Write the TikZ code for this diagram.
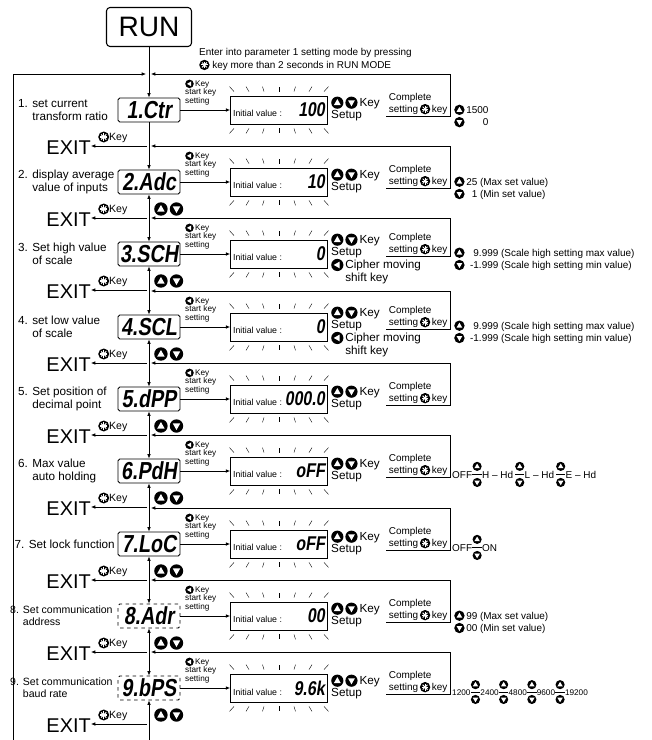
\documentclass[tikz,border=0pt]{standalone}
\usepackage{fontspec}
\setmainfont{Liberation Sans}
\newfontfamily\segfont{Liberation Sans}[FakeSlant=0.15,FakeStretch=0.8]
\usetikzlibrary{arrows.meta,calc,positioning}

% round key icons, sized by the font around them
\newcommand{\kicon}[1]{\tikz[baseline={(0pt,-0.34em)}]{\fill (0pt,0pt) circle (0.52em); #1}}
\newcommand{\kup}{\kicon{\fill[white] (0em,0.31em)--(-0.29em,-0.2em)--(0.29em,-0.2em)--cycle;}}
\newcommand{\kdn}{\kicon{\fill[white] (0em,-0.31em)--(-0.29em,0.2em)--(0.29em,0.2em)--cycle;}}
\newcommand{\klf}{\kicon{\fill[white] (-0.31em,0em)--(0.2em,0.29em)--(0.2em,-0.29em)--cycle;}}
\newcommand{\kset}{\kicon{\foreach \a in {0,45,...,135} \draw[white,line width=0.1em] (\a:0.34em)--(\a+180:0.34em);}}
\newcommand{\kud}{\tikz[baseline=0pt]{%
  \fill (0pt,0.72em+3.8pt) circle (3.9pt);
  \fill[white] (0pt,0.72em+6.2pt)--(-2.3pt,0.72em+2.3pt)--(2.3pt,0.72em+2.3pt)--cycle;
  \fill (0pt,-3.8pt) circle (3.9pt);
  \fill[white] (0pt,-6.2pt)--(-2.3pt,-2.3pt)--(2.3pt,-2.3pt)--cycle;
  \draw[line width=0.5pt] (-4pt,0.36em)--(4pt,0.36em);}}

\begin{document}
\begin{tikzpicture}[x=0.03cm,y=-0.03cm,
    flow/.style={-{Latex[length=1.3mm,width=1.1mm]},line width=0.6pt},
    both/.style={{Latex[length=1.3mm,width=1.1mm]}-{Latex[length=1.3mm,width=1.1mm]},line width=0.6pt},
    disp/.style={draw,line width=0.8pt,rounded corners=1.5pt,minimum width=1.86cm,minimum height=0.72cm,
      inner sep=0pt,font=\segfont\bfseries\fontsize{21}{21}\selectfont},
    ivbox/.style={draw,line width=0.7pt,minimum width=2.91cm,minimum height=0.84cm,inner sep=0pt},
    ray/.style={line width=0.35pt},
    lbl/.style={anchor=west,align=left,inner sep=0pt,font=\fontsize{10}{11}\selectfont},
    small/.style={align=left,inner sep=0pt,font=\fontsize{7}{7}\selectfont},
    keys/.style={anchor=west,align=left,inner sep=0pt,font=\fontsize{10}{10.5}\selectfont},
    vals/.style={anchor=west,align=left,inner sep=0pt,font=\fontsize{8.5}{10.5}\selectfont},
    exit/.style={anchor=east,inner sep=0pt,font=\fontsize{17}{17}\selectfont}
  ]
  \useasboundingbox (0,0) rectangle (651,740);

  \node[draw,line width=0.9pt,rounded corners=3pt,minimum width=2.55cm,minimum height=1.17cm,
    font=\fontsize{24}{24}\selectfont] (run) at (149,27) {RUN};
  \node[anchor=north west,align=left,inner sep=0pt,font=\fontsize{8.5}{11}\selectfont] (enter) at (199,48)
    {Enter into parameter 1 setting mode by pressing\\\kset\ key more than 2 seconds in RUN MODE};

  % one row per parameter
  \foreach \k/\y/\code/\val/\su/\sc in {1/110/1.Ctr/100/0/0,2/182/2.Adc/10/0/0,3/254/3.SCH/0/-7/-4,
      4/327/4.SCL/0/-7/-4,5/399/5.dPP/000.0/0/0,6/471/6.PdH/oFF/0/0,7/544/7.LoC/oFF/0/0,
      8/616/8.Adr/00/0/0,9/688/9.bPS/9.6k/0/0}{
    \ifnum\k>7 \def\dstyle{dashed}\else\def\dstyle{solid}\fi
    \node[disp,\dstyle] (d\k) at (149,\y) {\code};
    \node[ivbox] (iv\k) at (279,\y) {\makebox[2.75cm]{\fontsize{7.5}{8}\selectfont Initial value :\hfill
      \segfont\bfseries\fontsize{17}{17}\selectfont\val}};
    \draw[flow] (d\k) -- (iv\k);
    \node[small,anchor=south west] (sk\k) at (185,\y-5) {\klf\,Key\\start key\\setting};
    \foreach \o in {-45,-30,...,45}{
      \draw[ray] ($(iv\k.north)+(\o,-4)$) -- ++(0.1*\o,-5);
      \draw[ray] ($(iv\k.south)+(\o,4)$) -- ++(0.1*\o,5);
    }
    \node[keys] (ud\k) at (331,\y-1+\su) {\kup\,\kdn\,Key\\Setup};
    \node[anchor=south east,align=left,inner xsep=2pt,inner ysep=1pt,font=\fontsize{8.5}{10}\selectfont]
      (cmp\k) at (450,\y+6+\sc) {Complete\\setting\,\kset\,key};
    \coordinate (rt\k) at (450,\y-36);
    \coordinate (jr\k) at (151,\y-36);
    \draw[flow] (cmp\k.south west) -- (cmp\k.south east) -- (rt\k) -- (jr\k);
    \coordinate (j\k) at (147,\y+36);
    \node[exit] (ex\k) at (91,\y+38) {EXIT};
    \draw[flow] (j\k) -- (j\k -| ex\k.east);
    \node[anchor=south west,inner sep=0pt,font=\fontsize{9}{9}\selectfont] (ek\k) at (98,\y+33) {\kset Key};
    \ifnum\k>1 \node[anchor=west,inner sep=0pt,font=\fontsize{11}{11}\selectfont] (kk\k) at (154,\y+27) {\kup\,\kdn}; \fi
  }

  \node[keys,anchor=north west] (cm3) at (ud3.south west) {\klf\,Cipher moving\\\hspace*{1.2em}shift key};
  \node[keys,anchor=north west] (cm4) at (ud4.south west) {\klf\,Cipher moving\\\hspace*{1.2em}shift key};

  % row labels
  \node[lbl] (l1) at (18,110) {1. set current\\\phantom{1. }transform ratio};
  \node[lbl] (l2) at (18,182) {2. display average\\\phantom{2. }value of inputs};
  \node[lbl] (l3) at (18,254) {3. Set high value\\\phantom{3. }of scale};
  \node[lbl] (l4) at (18,327) {4. set low value\\\phantom{4. }of scale};
  \node[lbl] (l5) at (18,399) {5. Set position of\\\phantom{5. }decimal point};
  \node[lbl] (l6) at (18,471) {6. Max value\\\phantom{6. }auto holding};
  \node[lbl,anchor=east] (l7) at (115,544) {7. Set lock function};
  \node[lbl,font=\fontsize{9}{10}\selectfont] (l8) at (10,616) {8. Set communication\\\phantom{8. }address};
  \node[lbl,font=\fontsize{9}{10}\selectfont] (l9) at (10,688) {9. Set communication\\\phantom{9. }baud rate};

  % set values
  \node[vals] (v1) at (454,116) {\kup\,1500\\\kdn\,\phantom{150}0};
  \node[vals] (v2) at (454,188) {\kup\,25 (Max set value)\\\kdn\,\phantom{2}1 (Min set value)};
  \node[vals] (v3) at (454,259) {\kup\ \ \phantom{-}9.999 (Scale high setting max value)\\\kdn\ \ -1.999 (Scale high setting min value)};
  \node[vals] (v4) at (454,332) {\kup\ \ \phantom{-}9.999 (Scale high setting max value)\\\kdn\ \ -1.999 (Scale high setting min value)};
  \node[vals,anchor=base west] (v6) at (452,478) {OFF\kud H -- Hd\,\kud L -- Hd\,\kud E -- Hd};
  \node[vals,anchor=base west] (v7) at (452,551) {OFF\kud ON};
  \node[vals] (v8) at (454,622) {\kup\,99 (Max set value)\\\kdn\,00 (Min set value)};
  \node[vals,anchor=base west,font=\fontsize{7}{8}\selectfont] (v9) at (452,695) {1200\kud2400\kud4800\kud9600\kud19200};

  % main line
  \draw[flow] (run) -- (d1);
  \draw[flow] (d1) -- (d2);
  \foreach \a/\b in {2/3,3/4,4/5,5/6,6/7,7/8,8/9} \draw[both] (d\a) -- (d\b);
  \coordinate (bot) at (149,740);
  \draw[flow] (bot) -- (d9);

  % return loop on the left
  \coordinate (lb) at (13,740);
  \coordinate (lt) at (13,74);
  \coordinate (jl) at (146,74);
  \draw[flow] (lb) -- (lt) -- (jl);
\end{tikzpicture}
\end{document}
